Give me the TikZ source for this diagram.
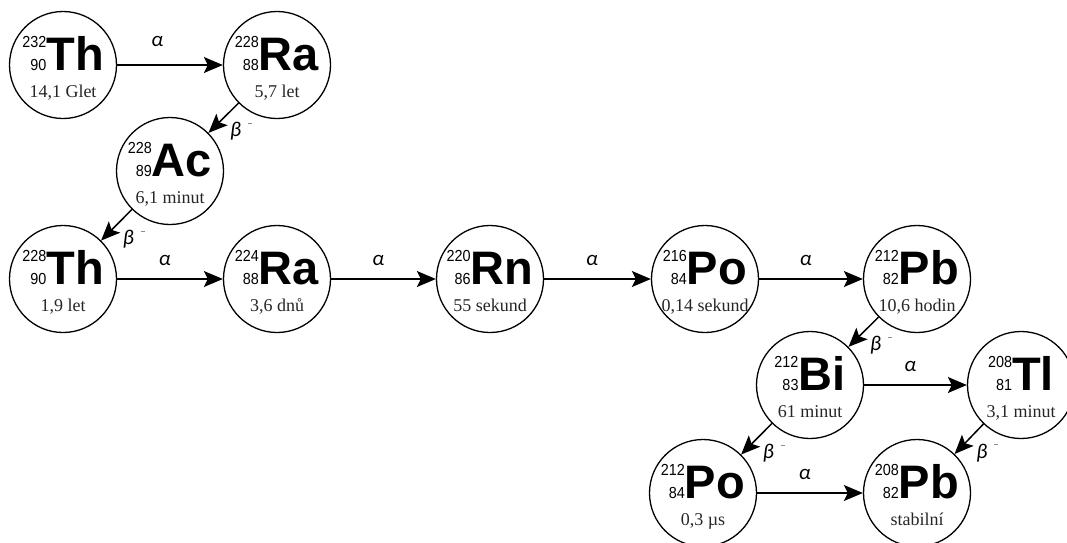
\documentclass[tikz,border=0pt]{standalone}
\usepackage{fontspec}
\usetikzlibrary{arrows.meta}
\setmainfont{Liberation Serif}
\newfontfamily\symfont{Liberation Sans}
\newfontfamily\numfont[FakeStretch=0.9]{Liberation Sans}
\newfontfamily\greekfont{Carlito}

% nuclide symbol with mass number (top) and atomic number (bottom) on the left
\newcommand\isotope[3]{%
  {\numfont\fontsize{16}{16}\selectfont
   \makebox[24pt][r]{\smash{\raisebox{22.5pt}{#1}}}\llap{#2}}%
  {\symfont\bfseries\fontsize{47}{47}\selectfont #3}}

% the minus sign of beta decay, small and raised
\newcommand\betaminus{β\hspace{7pt}\raisebox{13pt}{\textcolor{black!45}{\rule{4pt}{0.8pt}}}}

\tikzset{
  nucleus/.style={circle, draw, line width=1.3pt, minimum size=107pt, inner sep=0pt},
  symtext/.style={inner sep=0pt, anchor=base},
  lifetext/.style={inner sep=0pt, anchor=base, text=black!85,
    font=\fontsize{18}{18}\selectfont},
  flow/.style={line width=1.5pt, -{Stealth[length=19pt, width=16pt, inset=4pt]}},
  alab/.style={pos=0.45, anchor=base, yshift=14pt, inner sep=0pt,
    font=\greekfont\itshape\fontsize{21}{21}\selectfont},
  blab/.style={pos=1, anchor=base west, xshift=21pt, yshift=-4pt, inner sep=0pt,
    font=\greekfont\itshape\fontsize{21}{21}\selectfont},
}

% #1 name, #2 position, #3 mass number, #4 atomic number, #5 symbol, #6 half-life
\newcommand\nuclide[6]{%
  \node[nucleus] (#1) at (#2) {};
  \node[symtext] (#1-sym) at ([yshift=-5pt]#1.center) {\isotope{#3}{#4}{#5}};
  \node[lifetext] (#1-life) at ([yshift=-32pt]#1.center) {#6};
}

\begin{document}
\begin{tikzpicture}[x=1pt, y=-1pt]
  \fill[white] (0,0) rectangle (1067,542);
  \useasboundingbox (0,0) rectangle (1067,542);

  \nuclide{th232}{63,65}{232}{90}{Th}{14,1 Glet}
  \nuclide{ra228}{277,65}{228}{88}{Ra}{5,7 let}
  \nuclide{ac228}{170,171}{228}{89}{Ac}{6,1 minut}
  \nuclide{th228}{63,279}{228}{90}{Th}{1,9 let}
  \nuclide{ra224}{277,279}{224}{88}{Ra}{3,6 dnů}
  \nuclide{rn220}{490,279}{220}{86}{Rn}{55 sekund}
  \nuclide{po216}{705,279}{216}{84}{Po}{0,14 sekund}
  \nuclide{pb212}{917,279}{212}{82}{Pb}{10,6 hodin}
  \nuclide{bi212}{810,385}{212}{83}{Bi}{61 minut}
  \nuclide{tl208}{1021,385}{208}{81}{Tl}{3,1 minut}
  \nuclide{po212}{703,493}{212}{84}{Po}{0,3 µs}
  \nuclide{pb208}{917,493}{208}{82}{Pb}{stabilní}

  % alpha decays
  \draw[flow] (th232) -- node[alab, pos=0.38, yshift=5pt] (d1) {α} (ra228);
  \draw[flow] (th228) -- node[alab] (d4) {α} (ra224);
  \draw[flow] (ra224) -- node[alab] (d5) {α} (rn220);
  \draw[flow] (rn220) -- node[alab] (d6) {α} (po216);
  \draw[flow] (po216) -- node[alab] (d7) {α} (pb212);
  \draw[flow] (bi212) -- node[alab] (d9) {α} (tl208);
  \draw[flow] (po212) -- node[alab] (d11) {α} (pb208);

  % beta-minus decays
  \draw[flow] (ra228) -- node[blab] (d2) {\betaminus} (ac228);
  \draw[flow] (ac228) -- node[blab] (d3) {\betaminus} (th228);
  \draw[flow] (pb212) -- node[blab] (d8) {\betaminus} (bi212);
  \draw[flow] (bi212) -- node[blab] (d10) {\betaminus} (po212);
  \draw[flow] (tl208) -- node[blab] (d12) {\betaminus} (pb208);
\end{tikzpicture}
\end{document}
